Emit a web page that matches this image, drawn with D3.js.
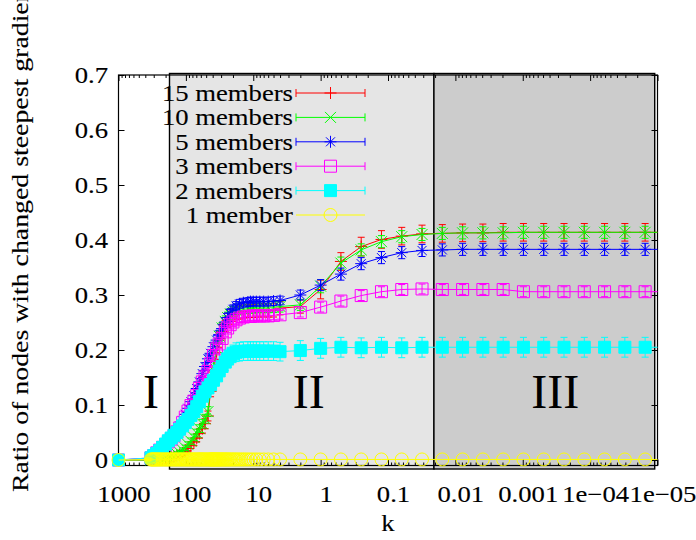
<!DOCTYPE html>
<html>
<head>
<meta charset="utf-8">
<script src="https://cdn.jsdelivr.net/npm/d3@7"></script>
<style>
  body { margin: 0; background: #fff; }
  svg { display: block; }
  text { font-family: "Liberation Serif", "Times New Roman", serif; fill: #000; }
  text.lbl { stroke: #000; stroke-width: 0.12px; }
</style>
</head>
<body>
<svg id="chart" width="696" height="540"></svg>
<script>
// ---- data -------------------------------------------------------------
// k grid shared by the multi-member runs
const kValues = [1000,
  330, 300, 270, 245, 222, 200, 182, 165, 150, 136,
  124, 112, 102, 93, 84, 76, 69, 63, 57, 52,
  47, 43, 39, 35, 32, 29, 26, 24, 22, 20,
  18, 16, 14, 12, 11, 10, 9, 8, 7, 6, 5,
  4, 2, 1, 0.5, 0.25, 0.125, 0.0625, 0.03125,
  0.015625, 0.0078125, 0.00390625, 0.001953125, 0.0009765625, 0.00048828125,
  0.000244140625, 0.0001220703125, 0.00006103515625, 0.000030517578125,
  0.0000152587890625, 0.00000762939453125];

// finer k grid of the single-member run
const kOneMember = [1000,
  330, 320, 310, 300, 290, 280, 270, 260, 250, 240,
  230, 220, 210, 200, 192, 184, 176, 168, 160, 153,
  146, 140, 134, 128, 122, 117, 112, 107, 102, 98,
  94, 90, 86, 82, 79, 76, 73, 70, 67, 64,
  62, 60, 58, 56, 54, 52, 50, 48, 46, 44,
  43, 42, 41, 40, 39, 38, 37, 36, 35, 34, 33, 32, 31, 30,
  29, 28, 27, 26, 25, 24, 23, 22, 21, 20,
  19, 18, 17, 16, 15, 14, 13, 12, 11, 10,
  9, 8, 7, 6, 5,
  4, 2, 1, 0.5, 0.25, 0.125, 0.0625, 0.03125,
  0.015625, 0.0078125, 0.00390625, 0.001953125, 0.0009765625, 0.00048828125,
  0.000244140625, 0.0001220703125, 0.00006103515625, 0.000030517578125,
  0.0000152587890625, 0.00000762939453125];

const members15 = [0,
  0.000, 0.000, 0.001, 0.001, 0.002, 0.003, 0.004, 0.005, 0.006, 0.008, 0.010,
  0.013, 0.017, 0.021, 0.027, 0.033, 0.040, 0.048, 0.057, 0.066, 0.080,
  0.125, 0.160, 0.195, 0.218, 0.234, 0.246, 0.254, 0.260, 0.264, 0.267,
  0.268, 0.270, 0.271, 0.271, 0.271, 0.272, 0.272, 0.272, 0.272, 0.272,
  0.276, 0.279, 0.310, 0.361, 0.388, 0.401, 0.407, 0.411, 0.412, 0.413,
  0.413, 0.414, 0.414, 0.414, 0.414, 0.414, 0.414, 0.414, 0.414, 0.414];
const err15 = [0,
  0.001, 0.001, 0.001, 0.002, 0.002, 0.002, 0.003, 0.003, 0.003, 0.004, 0.004,
  0.005, 0.005, 0.006, 0.006, 0.007, 0.007, 0.008, 0.008, 0.009, 0.009,
  0.010, 0.011, 0.012, 0.013, 0.013, 0.013, 0.013, 0.013, 0.012, 0.012,
  0.012, 0.012, 0.012, 0.012, 0.012, 0.012, 0.012, 0.012, 0.012, 0.012,
  0.012, 0.012, 0.017, 0.016, 0.017, 0.016, 0.016, 0.016, 0.016, 0.016,
  0.016, 0.016, 0.016, 0.016, 0.016, 0.016, 0.016, 0.016, 0.016, 0.016];

const members10 = [0,
  0.000, 0.001, 0.001, 0.002, 0.003, 0.004, 0.005, 0.007, 0.009, 0.011, 0.014,
  0.018, 0.022, 0.028, 0.034, 0.041, 0.049, 0.057, 0.066, 0.075, 0.088,
  0.135, 0.170, 0.203, 0.225, 0.240, 0.252, 0.259, 0.265, 0.269, 0.272,
  0.275, 0.276, 0.277, 0.277, 0.277, 0.278, 0.278, 0.278, 0.278, 0.278,
  0.279, 0.282, 0.316, 0.358, 0.382, 0.397, 0.406, 0.410, 0.412, 0.413,
  0.413, 0.413, 0.414, 0.414, 0.414, 0.414, 0.414, 0.414, 0.414, 0.414];
const err10 = [0,
  0.001, 0.001, 0.001, 0.001, 0.002, 0.002, 0.002, 0.003, 0.003, 0.003, 0.004,
  0.004, 0.005, 0.005, 0.006, 0.006, 0.007, 0.007, 0.008, 0.008, 0.009,
  0.009, 0.010, 0.010, 0.010, 0.010, 0.010, 0.010, 0.010, 0.010, 0.010,
  0.010, 0.010, 0.010, 0.010, 0.010, 0.010, 0.010, 0.010, 0.010, 0.010,
  0.010, 0.010, 0.012, 0.011, 0.011, 0.011, 0.011, 0.011, 0.011, 0.011,
  0.011, 0.011, 0.011, 0.011, 0.011, 0.011, 0.011, 0.011, 0.011, 0.011];

const members5 = [0,
  0.003, 0.007, 0.011, 0.016, 0.021, 0.027, 0.033, 0.039, 0.046, 0.054, 0.062,
  0.072, 0.083, 0.094, 0.106, 0.117, 0.130, 0.142, 0.157, 0.170, 0.184,
  0.194, 0.206, 0.218, 0.228, 0.239, 0.251, 0.259, 0.267, 0.274, 0.280,
  0.284, 0.286, 0.287, 0.288, 0.288, 0.288, 0.288, 0.288, 0.288, 0.289,
  0.290, 0.300, 0.318, 0.338, 0.357, 0.368, 0.377, 0.381, 0.382, 0.383,
  0.383, 0.383, 0.383, 0.383, 0.383, 0.383, 0.383, 0.383, 0.383, 0.383];
const err5 = [0,
  0.001, 0.001, 0.001, 0.001, 0.002, 0.002, 0.002, 0.003, 0.003, 0.003, 0.004,
  0.004, 0.004, 0.005, 0.005, 0.005, 0.006, 0.006, 0.006, 0.007, 0.007,
  0.007, 0.008, 0.008, 0.008, 0.008, 0.008, 0.008, 0.008, 0.008, 0.008,
  0.008, 0.008, 0.008, 0.008, 0.008, 0.008, 0.008, 0.008, 0.008, 0.008,
  0.008, 0.009, 0.010, 0.011, 0.011, 0.011, 0.011, 0.011, 0.011, 0.011,
  0.011, 0.011, 0.011, 0.011, 0.011, 0.011, 0.011, 0.011, 0.011, 0.011];

const members3 = [0,
  0.004, 0.008, 0.013, 0.018, 0.023, 0.028, 0.033, 0.038, 0.044, 0.051, 0.058,
  0.068, 0.078, 0.089, 0.099, 0.107, 0.117, 0.130, 0.142, 0.151, 0.161,
  0.175, 0.190, 0.202, 0.211, 0.221, 0.233, 0.240, 0.246, 0.251, 0.255,
  0.258, 0.260, 0.261, 0.261, 0.262, 0.262, 0.262, 0.262, 0.262, 0.263,
  0.264, 0.268, 0.278, 0.289, 0.299, 0.306, 0.310, 0.311, 0.310, 0.310,
  0.310, 0.310, 0.306, 0.306, 0.306, 0.306, 0.306, 0.306, 0.306, 0.306];
const err3 = [0,
  0.001, 0.001, 0.001, 0.001, 0.002, 0.002, 0.002, 0.003, 0.003, 0.003, 0.004,
  0.004, 0.004, 0.005, 0.005, 0.005, 0.006, 0.006, 0.006, 0.007, 0.007,
  0.007, 0.008, 0.008, 0.008, 0.008, 0.008, 0.008, 0.008, 0.008, 0.008,
  0.008, 0.008, 0.008, 0.008, 0.008, 0.008, 0.008, 0.008, 0.008, 0.008,
  0.008, 0.008, 0.009, 0.009, 0.009, 0.009, 0.009, 0.009, 0.009, 0.009,
  0.009, 0.009, 0.009, 0.009, 0.009, 0.009, 0.009, 0.009, 0.009, 0.009];

const members2 = [0,
  0.004, 0.008, 0.012, 0.017, 0.023, 0.029, 0.035, 0.040, 0.045, 0.050, 0.056,
  0.062, 0.068, 0.074, 0.081, 0.088, 0.097, 0.106, 0.116, 0.124, 0.131,
  0.137, 0.145, 0.153, 0.162, 0.170, 0.178, 0.184, 0.189, 0.193, 0.196,
  0.197, 0.198, 0.198, 0.198, 0.198, 0.198, 0.198, 0.198, 0.198, 0.198,
  0.197, 0.199, 0.203, 0.205, 0.204, 0.205, 0.204, 0.205, 0.205, 0.205,
  0.205, 0.205, 0.205, 0.205, 0.205, 0.205, 0.205, 0.205, 0.205, 0.205];
const err2 = [0,
  0.002, 0.002, 0.003, 0.003, 0.004, 0.004, 0.005, 0.005, 0.006, 0.006, 0.007,
  0.007, 0.008, 0.008, 0.009, 0.009, 0.010, 0.010, 0.011, 0.011, 0.012,
  0.012, 0.013, 0.013, 0.014, 0.014, 0.015, 0.015, 0.016, 0.016, 0.017,
  0.017, 0.017, 0.017, 0.017, 0.017, 0.017, 0.017, 0.017, 0.017, 0.017,
  0.017, 0.018, 0.018, 0.018, 0.018, 0.018, 0.018, 0.018, 0.018, 0.018,
  0.018, 0.018, 0.018, 0.018, 0.018, 0.018, 0.018, 0.018, 0.018, 0.018];

const members1 = [0,
  0.001, 0.001, 0.001, 0.001, 0.001, 0.001, 0.001, 0.001, 0.001, 0.001,
  0.001, 0.001, 0.001, 0.001, 0.001, 0.001, 0.001, 0.001, 0.001, 0.001,
  0.001, 0.001, 0.001, 0.001, 0.001, 0.001, 0.001, 0.001, 0.001, 0.001,
  0.001, 0.001, 0.001, 0.001, 0.001, 0.001, 0.001, 0.001, 0.001, 0.001,
  0.001, 0.001, 0.001, 0.001, 0.001, 0.001, 0.001, 0.001, 0.001, 0.001,
  0.001, 0.001, 0.001, 0.001, 0.001, 0.001, 0.001, 0.001, 0.001, 0.001, 0.001, 0.001, 0.001, 0.001,
  0.001, 0.001, 0.001, 0.001, 0.001, 0.001, 0.001, 0.001, 0.001, 0.001,
  0.001, 0.001, 0.001, 0.001, 0.001, 0.001, 0.001, 0.001, 0.001, 0.001,
  0.001, 0.001, 0.001, 0.001, 0.001,
  0.001, 0.001, 0.001, 0.001, 0.001, 0.001, 0.001, 0.001,
  0.001, 0.001, 0.001, 0.001, 0.001, 0.001,
  0.001, 0.001, 0.001, 0.001,
  0.001, 0.001];

const seriesNames = ["15 members", "10 members", "5 members", "3 members", "2 members", "1 member"];
const seriesK = [kValues, kValues, kValues, kValues, kValues, kOneMember];
const seriesValues = [members15, members10, members5, members3, members2, members1];
const seriesErrors = [err15, err10, err5, err3, err2, null];
const seriesColors = ["#ff0000", "#00ff00", "#0000ff", "#ff00ff", "#00ffff", "#ffff00"];
const seriesMarkers = ["plus", "cross", "star", "box", "filledBox", "circle"];

const xTickValues = [1000, 100, 10, 1, 0.1, 0.01, 0.001, 1e-4, 1e-5];
const xTickLabels = ["1000", "100", "10", "1", "0.1", "0.01", "0.001", "1e\u221204", "1e\u221205"];
const yTickValues = [0, 0.1, 0.2, 0.3, 0.4, 0.5, 0.6, 0.7];
const yTickLabels = ["0", "0.1", "0.2", "0.3", "0.4", "0.5", "0.6", "0.7"];

// shaded phases (k ranges) and their roman-numeral captions
const phaseFrom = [175, 0.0208];
const phaseTo = [0.0208, 1.1e-5];
const phaseFill = ["#e5e5e5", "#cccccc"];
const phaseNames = ["I", "II", "III"];
const phaseNameK = [330, 1.5, 3.3e-4];
const phaseNameY = 0.095;

// ---- layout ----------------------------------------------------------
const plotL = 118.5, plotR = 657.5, plotT = 75, plotB = 465.5;
const SX = 1.16;          // horizontal widening of the serif labels
const FS = 23;            // label font size

const svg = d3.select("#chart");
const x = d3.scaleLog().domain([1000, 1e-5]).range([plotL, plotR]);
const y = d3.scaleLinear().domain([-0.01, 0.7]).range([plotB, plotT]);

svg.append("rect").attr("width", 696).attr("height", 540).attr("fill", "#fff");

// phase backgrounds
svg.selectAll("rect.phase")
  .data(phaseFrom.map((f, i) => ({ from: f, to: phaseTo[i], fill: phaseFill[i] })))
  .join("rect")
  .attr("class", "phase")
  .attr("x", d => x(d.from))
  .attr("width", d => x(d.to) - x(d.from))
  .attr("y", plotT - 1.5)
  .attr("height", (plotB + 3.5) - (plotT - 1.5))
  .attr("fill", d => d.fill)
  .attr("stroke", "#000")
  .attr("stroke-width", 1.4);

// phase captions
svg.selectAll("text.phase")
  .data(phaseNames)
  .join("text")
  .attr("class", "phase")
  .attr("x", (d, i) => x(phaseNameK[i]))
  .attr("y", y(phaseNameY))
  .attr("text-anchor", "middle")
  .attr("font-size", 48)
  .text(d => d);

// ---- axes --------------------------------------------------------------
function styleLabels(g, dx = 0) {
  g.select(".domain").remove();
  g.attr("font-family", null).attr("font-size", null);
  g.selectAll("line").attr("stroke", "#000");
  g.selectAll("text").attr("class", "lbl").attr("font-size", FS)
    .attr("transform", `translate(${dx},0) scale(${SX},1)`);
}

const isDecade = t => Math.abs(Math.log10(t) - Math.round(Math.log10(t))) < 1e-6;
const xMinor = x.ticks().filter(t => !isDecade(t));

svg.append("g").attr("transform", `translate(0,${plotB})`)
  .call(d3.axisBottom(x).tickValues(xTickValues).tickFormat((d, i) => xTickLabels[i])
    .tickSizeInner(-6).tickSizeOuter(0).tickPadding(20))
  .call(styleLabels, 5);
svg.append("g").attr("transform", `translate(0,${plotB})`)
  .call(d3.axisBottom(x).tickValues(xMinor).tickFormat("").tickSizeInner(-3).tickSizeOuter(0))
  .call(styleLabels);
svg.append("g").attr("transform", `translate(0,${plotT})`)
  .call(d3.axisTop(x).tickValues(xTickValues).tickFormat("").tickSizeInner(-6).tickSizeOuter(0))
  .call(styleLabels);
svg.append("g").attr("transform", `translate(0,${plotT})`)
  .call(d3.axisTop(x).tickValues(xMinor).tickFormat("").tickSizeInner(-3).tickSizeOuter(0))
  .call(styleLabels);
svg.append("g").attr("transform", `translate(${plotL},0)`)
  .call(d3.axisLeft(y).tickValues(yTickValues).tickFormat((d, i) => yTickLabels[i])
    .tickSizeInner(-6).tickSizeOuter(0).tickPadding(9))
  .call(styleLabels);
svg.append("g").attr("transform", `translate(${plotR},0)`)
  .call(d3.axisRight(y).tickValues(yTickValues).tickFormat("").tickSizeInner(-6).tickSizeOuter(0))
  .call(styleLabels);

// plot frame
svg.append("rect")
  .attr("x", plotL).attr("y", plotT)
  .attr("width", plotR - plotL).attr("height", plotB - plotT)
  .attr("fill", "none").attr("stroke", "#000").attr("stroke-width", 1.2);

// axis titles
svg.append("text").attr("class", "lbl")
  .attr("transform", `translate(388,531) scale(${SX},1)`)
  .attr("text-anchor", "middle").attr("font-size", FS).text("k");
svg.append("text").attr("class", "lbl")
  .attr("transform", `translate(28,492) rotate(-90) scale(1.21,1)`)
  .attr("text-anchor", "start").attr("font-size", FS)
  .text("Ratio of nodes with changed steepest gradient");

// ---- series --------------------------------------------------------------
svg.append("clipPath").attr("id", "plotClip")
  .append("rect").attr("x", plotL).attr("y", plotT - 2)
  .attr("width", plotR - plotL).attr("height", plotB - plotT + 4);

function markerPath(type) {
  const p = d3.path();
  if (type === "plus" || type === "star") {
    p.moveTo(-6, 0); p.lineTo(6, 0); p.moveTo(0, -6); p.lineTo(0, 6);
  }
  if (type === "cross") {
    p.moveTo(-5.5, -5.5); p.lineTo(5.5, 5.5); p.moveTo(-5.5, 5.5); p.lineTo(5.5, -5.5);
  }
  if (type === "star") {
    p.moveTo(-4.5, -4.5); p.lineTo(4.5, 4.5); p.moveTo(-4.5, 4.5); p.lineTo(4.5, -4.5);
  }
  if (type === "box" || type === "filledBox") p.rect(-6, -6, 12, 12);
  if (type === "circle") { p.moveTo(6.5, 0); p.arc(0, 0, 6.5, 0, 2 * Math.PI); }
  return p.toString();
}

const line = d3.line().x(d => x(d.k)).y(d => y(d.v));

seriesNames.forEach((name, s) => {
  const color = seriesColors[s];
  const pts = seriesK[s].map((k, i) => ({
    k, v: seriesValues[s][i], e: seriesErrors[s] ? seriesErrors[s][i] : 0
  }));
  const shown = pts.filter(d => d.k >= 1e-5);
  const g = svg.append("g");

  g.append("path").datum(pts)
    .attr("d", line).attr("fill", "none")
    .attr("stroke", color).attr("stroke-width", 1)
    .attr("clip-path", "url(#plotClip)");

  if (seriesErrors[s]) {
    g.selectAll("path.err").data(shown.filter(d => d.e > 0)).join("path")
      .attr("class", "err")
      .attr("d", d => {
        const p = d3.path(), cx = x(d.k), y0 = y(d.v - d.e), y1 = y(d.v + d.e);
        p.moveTo(cx, y0); p.lineTo(cx, y1);
        p.moveTo(cx - 3.5, y0); p.lineTo(cx + 3.5, y0);
        p.moveTo(cx - 3.5, y1); p.lineTo(cx + 3.5, y1);
        return p.toString();
      })
      .attr("fill", "none").attr("stroke", color).attr("stroke-width", 1);
  }

  const filled = seriesMarkers[s] === "filledBox";
  g.selectAll("path.mk").data(shown).join("path")
    .attr("class", "mk")
    .attr("transform", d => `translate(${x(d.k)},${y(d.v)})`)
    .attr("d", markerPath(seriesMarkers[s]))
    .attr("fill", filled ? color : "none")
    .attr("stroke", color).attr("stroke-width", 1);
});

// ---- key -----------------------------------------------------------------
const key = svg.append("g");
seriesNames.forEach((name, s) => {
  const cy = 93 + s * 24.4;
  const color = seriesColors[s];
  key.append("text").attr("class", "lbl")
    .attr("transform", `translate(293,${cy + 8}) scale(${SX},1)`)
    .attr("text-anchor", "end").attr("font-size", FS).text(name);
  const p = d3.path();
  p.moveTo(296, cy); p.lineTo(365, cy);
  if (seriesErrors[s]) {
    p.moveTo(296, cy - 4); p.lineTo(296, cy + 4);
    p.moveTo(365, cy - 4); p.lineTo(365, cy + 4);
  }
  key.append("path").attr("d", p.toString()).attr("fill", "none")
    .attr("stroke", color).attr("stroke-width", 1);
  key.append("path")
    .attr("transform", `translate(330.5,${cy})`)
    .attr("d", markerPath(seriesMarkers[s]))
    .attr("fill", seriesMarkers[s] === "filledBox" ? color : "none")
    .attr("stroke", color).attr("stroke-width", 1);
});
</script>
</body>
</html>
